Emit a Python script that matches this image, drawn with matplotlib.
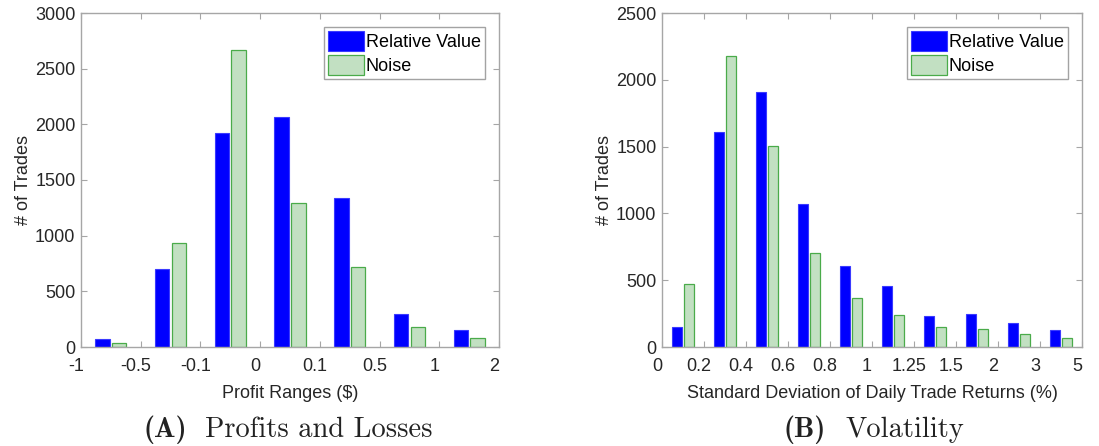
"""Grouped bar histograms: profits/losses and volatility, relative value vs noise."""

import matplotlib

matplotlib.use("Agg")

import matplotlib.pyplot as plt
import matplotlib.transforms as mtransforms
import numpy as np

# ---------------------------------------------------------------------------
# Data
# ---------------------------------------------------------------------------

pnl_edges = ["-1", "-0.5", "-0.1", "0", "0.1", "0.5", "1", "2"]
pnl_rv = [75, 698, 1919, 2069, 1338, 299, 156]
pnl_noise = [39, 937, 2671, 1293, 722, 177, 78]

vol_edges = ["0", "0.2", "0.4", "0.6", "0.8", "1", "1.25", "1.5", "2", "3", "5"]
vol_rv = [150, 1612, 1905, 1068, 610, 457, 235, 250, 177, 125]
vol_noise = [475, 2175, 1505, 700, 370, 242, 152, 135, 100, 68]

BLUE = "#0000ff"
GREEN_FILL = "#c2e0c2"
GREEN_EDGE = "#4aab4a"
SPINE = "#a6a6a6"
TICK_TXT = "#262626"

plt.rcParams["font.family"] = ["Liberation Sans", "DejaVu Sans"]

W, H = 1099, 446
FS = 13
fig = plt.figure(figsize=(W / 100, H / 100), dpi=100)


def px_axes(x0, x1, y0, y1):
    return fig.add_axes([x0 / W, 1 - y1 / H, (x1 - x0) / W, (y1 - y0) / H])


def draw_panel(ax, edges, rv, noise, ymax, ystep, xlabel):
    n = len(rv)
    idx = np.arange(n)
    ax.bar(idx + 0.36, rv, width=0.24, color=BLUE, edgecolor="#3a3aff",
           linewidth=0.8, label="Relative Value")
    ax.bar(idx + 0.64, noise, width=0.24, color=GREEN_FILL, edgecolor=GREEN_EDGE,
           linewidth=0.9, label="Noise")
    ax.set_xlim(0, n)
    ax.set_ylim(0, ymax)
    ax.set_xticks(np.arange(n + 1))
    ax.set_xticklabels(edges)
    ax.set_yticks(np.arange(0, ymax + 1, ystep))
    ax.tick_params(direction="in", top=True, right=True, length=4, width=0.8,
                   color=SPINE, labelsize=FS, labelcolor=TICK_TXT)
    ax.tick_params(axis="x", pad=8)
    ax.tick_params(axis="y", pad=4)
    shift = mtransforms.ScaledTranslation(-5 / 100, 0, fig.dpi_scale_trans)
    for lab in ax.get_xticklabels():
        lab.set_transform(lab.get_transform() + shift)
    for s in ax.spines.values():
        s.set_color(SPINE)
        s.set_linewidth(1.0)
    ax.set_xlabel(xlabel, fontsize=FS, color=TICK_TXT, labelpad=7)
    ax.set_ylabel("# of Trades", fontsize=FS, color=TICK_TXT, labelpad=2)
    leg = ax.legend(loc="upper right", fontsize=FS, frameon=True, fancybox=False,
                    handlelength=2.0, handleheight=1.3, handletextpad=0.1,
                    borderpad=0.2, labelspacing=0.25, borderaxespad=0.8)
    leg.get_frame().set_edgecolor("#8c8c8c")
    leg.get_frame().set_linewidth(1.0)


ax_a = px_axes(81, 499, 13, 347)
draw_panel(ax_a, pnl_edges, pnl_rv, pnl_noise, 3000, 500, "Profit Ranges ($)")

ax_b = px_axes(662, 1082, 13, 347)
draw_panel(ax_b, vol_edges, vol_rv, vol_noise, 2500, 500,
           "Standard Deviation of Daily Trade Returns (%)")

# captions under each panel (Computer Modern look)
CAP_Y = 1 - 437 / H
for x_tag, tag, x_txt, txt in [(143, "(A)", 205, "Profits and Losses"),
                               (783, "(B)", 845, "Volatility")]:
    fig.text(x_tag / W, CAP_Y, tag, family="cmb10", fontsize=20.5,
             ha="left", va="baseline", color="#222222")
    fig.text(x_txt / W, CAP_Y, txt, family="cmr10", fontsize=20.5,
             ha="left", va="baseline", color="#222222")

fig.savefig("out.png", dpi=100)
